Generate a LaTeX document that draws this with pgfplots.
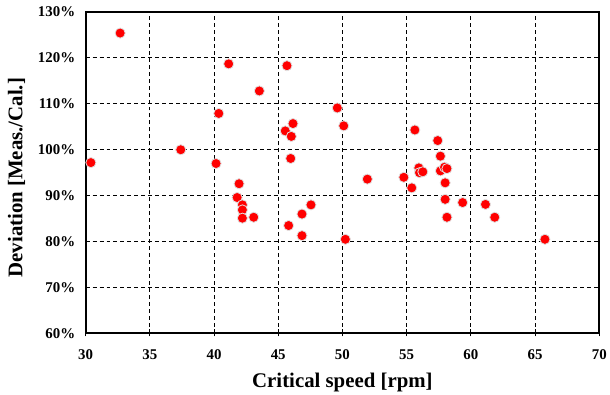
\documentclass[border=0pt]{standalone}
\usepackage{fontspec}
\setmainfont{Liberation Serif}
\usepackage{pgfplots}
\pgfplotsset{compat=1.18}
\begin{document}
\begin{tikzpicture}[x=1bp,y=1bp]
\begin{axis}[
  scale only axis,
  width=516bp, height=323bp,
  xmin=30, xmax=70, ymin=60, ymax=130,
  xtick={30,35,...,70}, ytick={60,70,...,130},
  yticklabel={\pgfmathprintnumber{\tick}\%},
  /pgf/number format/assume math mode=true,
  tick label style={font=\fontsize{15}{17}\selectfont\bfseries},
  label style={font=\fontsize{21}{24}\selectfont\bfseries},
  xlabel={Critical speed [rpm]},
  ylabel={Deviation [Meas./Cal.]},
  grid=major,
  major grid style={dash pattern=on 4bp off 3bp, black, line width=0.8bp},
  xtick style={black, line width=0.8bp},
  ytick style={draw=none},
  tick align=outside,
  major tick length=3bp,
  xtick pos=bottom, ytick pos=left,
  axis line style={line width=2bp},
  xticklabel style={yshift=-10bp},
  yticklabel style={xshift=-4bp},
  xlabel style={yshift=-6bp},
  ylabel style={yshift=6bp, xshift=-5bp},
]
\addplot[only marks, mark=*, mark size=5.1bp, mark options={fill=red, draw=black!12, line width=0.8bp}] table {
x y
30.41 97.2
32.69 125.4
37.41 100.0
40.16 97.0
40.37 107.9
41.14 118.7
41.80 89.6
41.95 92.6
42.21 88.0
42.21 86.9
42.21 85.1
43.09 85.3
43.53 112.8
45.55 104.1
45.68 118.3
45.81 83.5
45.97 98.1
46.02 102.9
46.15 105.7
46.85 86.0
46.85 81.3
47.55 88.0
49.60 109.1
50.10 105.2
50.23 80.5
51.94 93.6
54.78 94.0
55.40 91.7
55.64 104.3
55.95 96.05
56.00 95.0
56.26 95.2
57.42 102.0
57.63 98.6
57.63 95.4
57.95 96.2
58.14 95.9
58.00 92.8
58.00 89.2
58.14 85.3
59.36 88.5
61.14 88.1
61.86 85.3
65.77 80.5
};
\end{axis}
\path ([shift={(-86bp,-59bp)}]current axis.south west) rectangle ([shift={(8bp,12bp)}]current axis.north east);
\end{tikzpicture}
\end{document}
